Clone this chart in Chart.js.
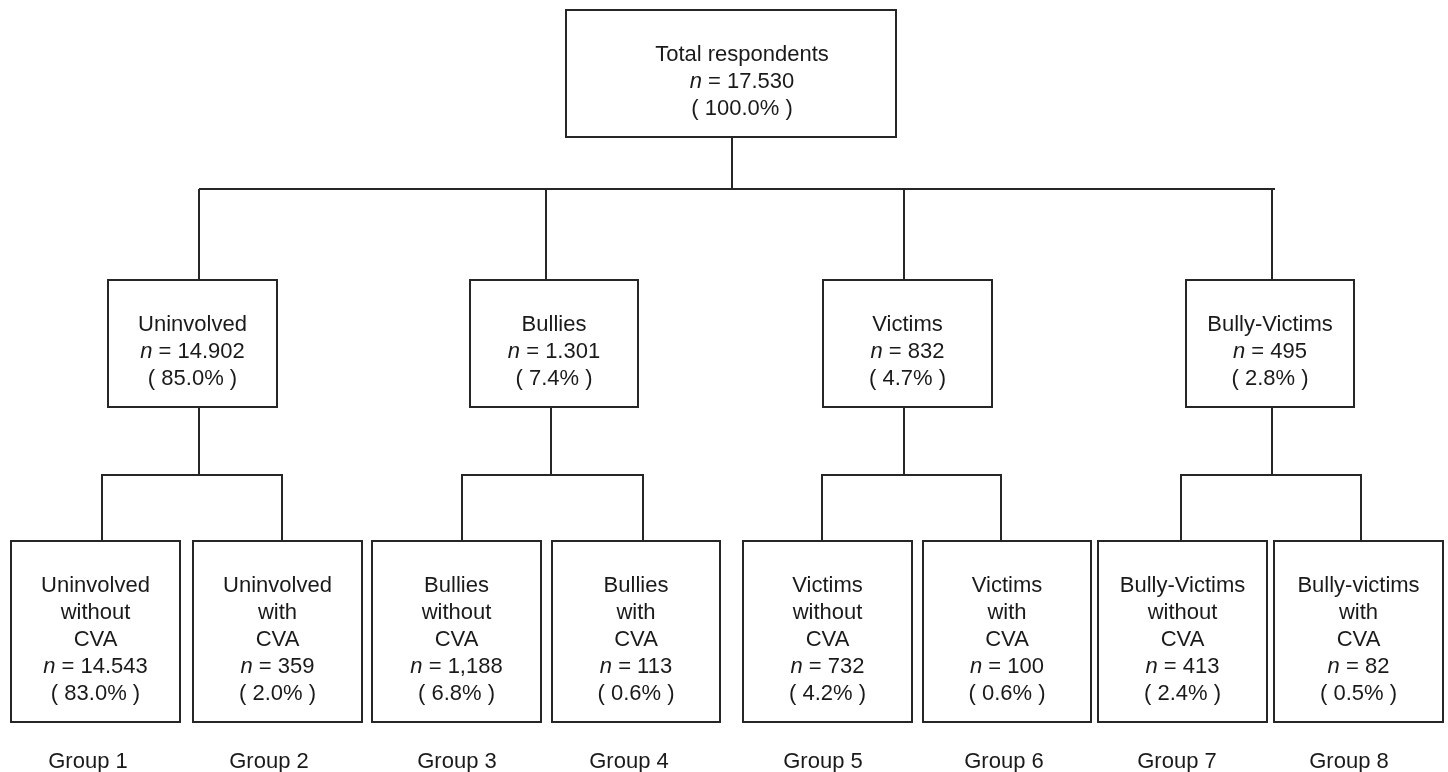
<!DOCTYPE html>
<html>
<head>
<meta charset="utf-8">
<script src="https://cdn.jsdelivr.net/npm/chart.js@4/dist/chart.umd.min.js"></script>
<style>
html,body{margin:0;padding:0;background:#fff;}
#wrap{width:1448px;height:772px;position:relative;}
</style>
</head>
<body>
<div id="wrap"><canvas id="c"></canvas></div>
<script>
// ---------------- DATA ----------------
const rootLabel = ["Total respondents"];
const rootN = "17.530";
const rootPct = "100.0%";

const categoryLabels = ["Uninvolved", "Bullies", "Victims", "Bully-Victims"];
const categoryN = ["14.902", "1.301", "832", "495"];
const categoryPct = ["85.0%", "7.4%", "4.7%", "2.8%"];

const subgroupLabels = [
  ["Uninvolved", "without", "CVA"],
  ["Uninvolved", "with", "CVA"],
  ["Bullies", "without", "CVA"],
  ["Bullies", "with", "CVA"],
  ["Victims", "without", "CVA"],
  ["Victims", "with", "CVA"],
  ["Bully-Victims", "without", "CVA"],
  ["Bully-victims", "with", "CVA"]
];
const subgroupN = ["14.543", "359", "1,188", "113", "732", "100", "413", "82"];
const subgroupPct = ["83.0%", "2.0%", "6.8%", "0.6%", "4.2%", "0.6%", "2.4%", "0.5%"];

const groupLabels = ["Group 1", "Group 2", "Group 3", "Group 4", "Group 5", "Group 6", "Group 7", "Group 8"];

// ---------------- LAYOUT (diagram coordinates on hidden linear scales) ----------------
const rootBox = { x0: 566, x1: 896, y0: 10, y1: 137, dx: 11 };
const rootStemX = 732;
const level1Y = 189;
const level1Span = [200, 1274];
const catTop = 280, catBottom = 407;
const catBoxX = [[108, 277], [470, 638], [823, 992], [1186, 1354]];
const catStemX = [199, 546, 904, 1272];
const catDropX = [199, 551, 904, 1272];
const level2Y = 475;
const branchX = [[102, 282], [462, 643], [822, 1001], [1181, 1361]];
const leafTop = 541, leafBottom = 722;
const leafBoxX = [[11, 180], [193, 362], [372, 541], [552, 720], [743, 912], [923, 1091], [1098, 1267], [1274, 1443]];
const groupLabelX = [88, 269, 457, 629, 823, 1004, 1177, 1349];
const groupLabelY = 768;
const lineGap = 27;

const LINE = '#262626';
const TEXT = '#1a1a1a';
const FONT = '"Liberation Sans", Arial, sans-serif';

function rect(x0, y0, x1, y1) {
  return [{x:x0,y:y0},{x:x1,y:y0},{x:x1,y:y1},{x:x0,y:y1},{x:x0,y:y0}];
}
function seg(x0, y0, x1, y1) { return [{x:x0,y:y0},{x:x1,y:y1}]; }

const datasets = [];
function addLine(data, w, cap) {
  datasets.push({
    data, showLine: true, borderColor: LINE, borderWidth: w, pointRadius: 0,
    fill: false, tension: 0, borderCapStyle: cap || 'square', borderJoinStyle: 'miter'
  });
}
// boxes
addLine(rect(rootBox.x0, rootBox.y0, rootBox.x1, rootBox.y1), 2);
catBoxX.forEach(b => addLine(rect(b[0], catTop, b[1], catBottom), 2));
leafBoxX.forEach(b => addLine(rect(b[0], leafTop, b[1], leafBottom), 2));
// connectors
addLine(seg(rootStemX, rootBox.y1, rootStemX, level1Y), 2, 'butt');
addLine(seg(level1Span[0], level1Y, level1Span[1], level1Y), 2);
catStemX.forEach(x => addLine(seg(x, level1Y, x, catTop), 2, 'butt'));
catDropX.forEach((x, i) => {
  addLine(seg(x, catBottom, x, level2Y), 2, 'butt');
  addLine(seg(branchX[i][0], level2Y, branchX[i][1], level2Y), 2);
  addLine(seg(branchX[i][0], level2Y, branchX[i][0], leafTop), 2, 'butt');
  addLine(seg(branchX[i][1], level2Y, branchX[i][1], leafTop), 2, 'butt');
});

// text drawing plugin
const textPlugin = {
  id: 'treeText',
  afterDatasetsDraw(chart) {
    const ctx = chart.ctx;
    const xs = chart.scales.x, ys = chart.scales.y;
    ctx.save();
    ctx.fillStyle = TEXT;
    ctx.textBaseline = 'alphabetic';

    function plain(str, cx, cy) {
      ctx.font = '22px ' + FONT;
      ctx.textAlign = 'center';
      ctx.fillText(str, xs.getPixelForValue(cx), ys.getPixelForValue(cy));
    }
    function nLine(val, cx, cy) {
      ctx.textAlign = 'left';
      ctx.font = 'italic 22px ' + FONT;
      const wn = ctx.measureText('n').width;
      ctx.font = '22px ' + FONT;
      const rest = ' = ' + val;
      const wr = ctx.measureText(rest).width;
      const px = xs.getPixelForValue(cx) - (wn + wr) / 2;
      const py = ys.getPixelForValue(cy);
      ctx.font = 'italic 22px ' + FONT;
      ctx.fillText('n', px, py);
      ctx.font = '22px ' + FONT;
      ctx.fillText(rest, px + wn, py);
    }
    function block(lines, n, pct, cx, yTop, yBot) {
      const all = lines.length + 2;
      const mid = (yTop + yBot) / 2 + 6;
      const base = (i) => mid + (i - (all - 1) / 2) * lineGap + 8;
      lines.forEach((s, i) => plain(s, cx, base(i)));
      nLine(n, cx, base(lines.length));
      plain('( ' + pct + ' )', cx, base(lines.length + 1));
    }

    block(rootLabel, rootN, rootPct, (rootBox.x0 + rootBox.x1) / 2 + rootBox.dx, rootBox.y0, rootBox.y1);
    categoryLabels.forEach((lab, i) => {
      const b = catBoxX[i];
      block([lab], categoryN[i], categoryPct[i], (b[0] + b[1]) / 2, catTop, catBottom);
    });
    subgroupLabels.forEach((lines, i) => {
      const b = leafBoxX[i];
      block(lines, subgroupN[i], subgroupPct[i], (b[0] + b[1]) / 2, leafTop, leafBottom);
    });
    groupLabels.forEach((g, i) => plain(g, groupLabelX[i], groupLabelY));
    ctx.restore();
  }
};

new Chart(document.getElementById('c'), {
  type: 'scatter',
  data: { datasets },
  options: {
    responsive: true,
    maintainAspectRatio: false,
    animation: false,
    events: [],
    layout: { padding: 0 },
    plugins: { legend: { display: false }, tooltip: { enabled: false } },
    scales: {
      x: { type: 'linear', min: 0, max: 1448, display: false },
      y: { type: 'linear', min: 0, max: 772, reverse: true, display: false }
    }
  },
  plugins: [textPlugin]
});
</script>
</body>
</html>
